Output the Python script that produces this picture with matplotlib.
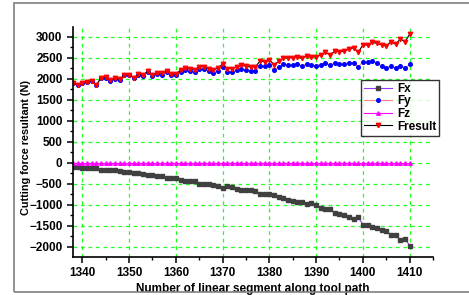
import matplotlib

matplotlib.use("Agg")
import matplotlib.pyplot as plt
from matplotlib.patches import Rectangle
from matplotlib.ticker import MultipleLocator

plt.rcParams["font.family"] = ["Liberation Sans", "DejaVu Sans"]
plt.rcParams["font.weight"] = "bold"

segments = list(range(1338, 1411))

fx = [-100, -110, -118, -127, -135, -130, -175, -175, -172, -178,
      -192, -214, -216, -238, -254, -256, -278, -294, -310, -325,
      -370, -357, -357, -413, -429, -432, -437, -492, -508, -492,
      -532, -548, -595, -556, -575, -611, -635, -640, -651, -680,
      -730, -730, -750, -760, -815, -835, -880, -915, -935, -935,
      -975, -960, -1010, -1065, -1110, -1095, -1200, -1206, -1246, -1286,
      -1345, -1290, -1468, -1470, -1524, -1545, -1587, -1619, -1710, -1706,
      -1835, -1802, -1968]

fy = [1902, 1847, 1901, 1926, 1945, 1845, 2017, 2022, 1952, 2002,
      1981, 2084, 2084, 2011, 2095, 2064, 2167, 2059, 2122, 2100,
      2158, 2080, 2080, 2166, 2204, 2193, 2171, 2232, 2229, 2177,
      2141, 2192, 2272, 2170, 2165, 2203, 2230, 2203, 2185, 2176,
      2308, 2292, 2332, 2207, 2270, 2345, 2338, 2322, 2344, 2301,
      2345, 2317, 2314, 2330, 2384, 2319, 2378, 2356, 2349, 2372,
      2380, 2288, 2390, 2386, 2415, 2382, 2295, 2252, 2305, 2245,
      2312, 2247, 2345]

fz = [0] * len(segments)

fres = [1905, 1850, 1905, 1930, 1950, 1850, 2025, 2030, 1960, 2010,
        1990, 2095, 2095, 2025, 2110, 2080, 2185, 2080, 2145, 2125,
        2190, 2110, 2110, 2205, 2245, 2235, 2215, 2286, 2286, 2232,
        2206, 2258, 2349, 2240, 2240, 2286, 2318, 2294, 2280, 2280,
        2421, 2405, 2450, 2334, 2413, 2490, 2500, 2500, 2524, 2484,
        2540, 2508, 2524, 2564, 2627, 2564, 2659, 2643, 2659, 2699,
        2738, 2627, 2802, 2802, 2865, 2841, 2802, 2778, 2881, 2818,
        2945, 2881, 3056]

fig = plt.figure(figsize=(4.69, 2.95), dpi=100)
fig.patches.append(Rectangle((14 / 469, 3 / 295), 1.0, 289 / 295, transform=fig.transFigure,
                             fill=False, edgecolor="#808080", lw=1.2))
ax = fig.add_axes([73 / 469, 38 / 295, 360 / 469, 230 / 295])

ms = 2.6
ax.plot(segments, fx, color="#9933ff", lw=0.8, marker="s", ms=ms, mfc="#404040", mec="#404040", label="Fx")
ax.plot(segments, fy, color="#ff8080", lw=0.8, marker="o", ms=ms, mfc="#0000ff", mec="#0000ff", label="Fy")
ax.plot(segments, fz, color="#ff00ff", lw=0.8, marker="^", ms=ms, mfc="#ff00ff", mec="#ff00ff", label="Fz")
ax.plot(segments, fres, color="black", lw=0.8, marker="v", ms=ms + 0.6, mfc="#ff0000", mec="#ff0000",
        label="Fresult")

ax.set_xlim(1338, 1415)
ax.set_ylim(-2240, 3230)
ax.xaxis.set_major_locator(MultipleLocator(10))
ax.xaxis.set_minor_locator(MultipleLocator(5))
ax.yaxis.set_major_locator(MultipleLocator(500))
ax.yaxis.set_minor_locator(MultipleLocator(250))
ax.grid(True, which="major", color="#22ff22", ls=(0, (3, 3)), lw=0.9)
ax.set_axisbelow(True)

for s in ("top", "right"):
    ax.spines[s].set_visible(False)
for s in ("left", "bottom"):
    ax.spines[s].set_linewidth(1.2)
ax.tick_params(which="major", direction="out", length=4, width=1.1, labelsize=8.5)
ax.tick_params(which="minor", direction="out", length=2, width=1.0)
for lab in ax.get_xticklabels() + ax.get_yticklabels():
    lab.set_fontweight("bold")

ax.set_xlabel("Number of linear segment along tool path", fontsize=8.5, fontweight="bold")
ax.set_ylabel("Cutting force resultant (N)", fontsize=7.8, fontweight="bold")
ax.xaxis.set_label_coords(0.5, -0.115)
ax.yaxis.set_label_coords(-0.118, 0.475)

leg = ax.legend(loc="upper left", bbox_to_anchor=(0.8, 0.77), fontsize=8.5, frameon=True,
                fancybox=False, handlelength=2.4, handletextpad=0.4, borderpad=0.25,
                labelspacing=0.05, borderaxespad=0)
leg.get_frame().set_edgecolor("black")
leg.get_frame().set_linewidth(1.0)
for t in leg.get_texts():
    t.set_fontweight("bold")

fig.savefig("out.png", dpi=100)
